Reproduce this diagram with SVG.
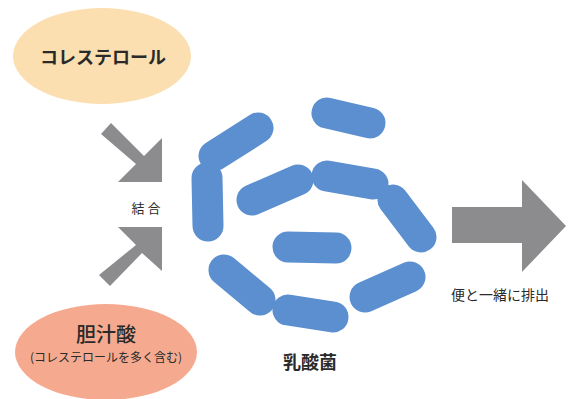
<svg xmlns="http://www.w3.org/2000/svg" width="571" height="399" viewBox="0 0 571 399">
  <style>
    .jp { font-family: "Noto Sans CJK JP", "Noto Sans", sans-serif; fill: #2a2a2a; }
    .cell { stroke: #5b8fcf; stroke-width: 31; stroke-linecap: round; fill: none; }
    .arrow { fill: #8c8c8e; }
  </style>
  <rect width="571" height="399" fill="#ffffff"/>

  <g id="cholesterol">
    <ellipse cx="102" cy="56" rx="89" ry="48" fill="#fcdfb0"/>
    <text class="jp" x="103" y="64" font-size="18" font-weight="bold" text-anchor="middle">コレステロール</text>
  </g>

  <g id="bile-acid">
    <ellipse cx="106" cy="352" rx="91" ry="48" fill="#f5aa90"/>
    <text class="jp" x="106" y="342" font-size="20" font-weight="500" text-anchor="middle">胆汁酸</text>
    <text class="jp" x="106" y="362" font-size="12" text-anchor="middle">(コレステロールを多く含む)</text>
  </g>

  <g id="connectors">
    <!-- arrow into the binding point from above -->
    <polygon class="arrow" points="101,134 111,123 144,156 162,138 162,182 118,182 136,164"/>
    <!-- arrow into the binding point from below -->
    <polygon class="arrow" points="99,275 110,286 142,253 162,271 162,227 118,227 136,245"/>
    <!-- excretion arrow -->
    <polygon class="arrow" points="452,207 522,207 522,180 566,226 522,272 522,243 452,243"/>
  </g>

  <g id="bind-label">
    <text class="jp" x="146" y="213" font-size="13" text-anchor="middle">結 合</text>
  </g>

  <g id="lactic-acid-bacteria">
    <line class="cell" x1="327" y1="113" x2="370" y2="123"/>
    <line class="cell" x1="214" y1="156" x2="258" y2="128"/>
    <line class="cell" x1="207" y1="178" x2="208" y2="226"/>
    <line class="cell" x1="252" y1="200" x2="298" y2="180"/>
    <line class="cell" x1="327" y1="176" x2="373" y2="184"/>
    <line class="cell" x1="393" y1="200" x2="421" y2="237"/>
    <line class="cell" x1="288" y1="247" x2="336" y2="248"/>
    <line class="cell" x1="224" y1="270" x2="260" y2="300"/>
    <line class="cell" x1="288" y1="310" x2="333" y2="317"/>
    <line class="cell" x1="365" y1="297" x2="410" y2="277"/>
    <text class="jp" x="310" y="369" font-size="18" font-weight="bold" text-anchor="middle">乳酸菌</text>
  </g>

  <g id="excretion-label">
    <text class="jp" x="500" y="300" font-size="14" text-anchor="middle">便と一緒に排出</text>
  </g>
</svg>
